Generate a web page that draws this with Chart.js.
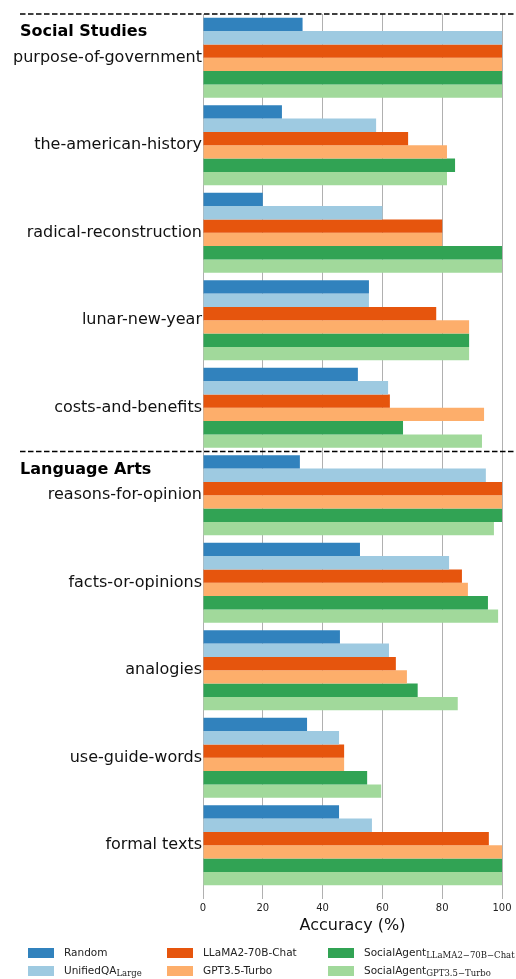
<!DOCTYPE html>
<html>
<head>
<meta charset="utf-8">
<script src="https://cdn.jsdelivr.net/npm/chart.js@4.4.1/dist/chart.umd.min.js"></script>
<style>
  body { margin: 0; background: #fff; }
  canvas { display: block; }
</style>
</head>
<body>
<canvas id="myChart" width="516" height="979"></canvas>
<script>
const categories = [
    'purpose-of-government', 'the-american-history', 'radical-reconstruction',
    'lunar-new-year', 'costs-and-benefits',
    'reasons-for-opinion', 'facts-or-opinions', 'analogies',
    'use-guide-words', 'formal texts'
];

const sectionNames = ['Social Studies', 'Language Arts'];
const sectionStarts = [0, 5];

const xTicks = [0, 20, 40, 60, 80, 100];

const randomVals    = [33.3, 26.4, 20.0, 55.5, 51.8, 32.4, 52.5, 45.8, 34.8, 45.5];
const unifiedQAVals = [100, 57.9, 60.0, 55.5, 61.9, 94.6, 82.3, 62.2, 45.5, 56.5];
const llamaVals     = [100, 68.6, 80.0, 78.0, 62.5, 100, 86.6, 64.5, 47.2, 95.6];
const gptVals       = [100, 81.6, 80.0, 89.0, 94.0, 100, 88.6, 68.2, 47.2, 100];
const saLlamaVals   = [100, 84.3, 100, 89.0, 66.9, 100, 95.3, 71.8, 54.9, 100];
const saGptVals     = [100, 81.6, 100, 89.0, 93.3, 97.3, 98.7, 85.2, 59.6, 100];

const seriesNames = ['Random', 'UnifiedQA', 'LLaMA2-70B-Chat', 'GPT3.5-Turbo', 'SocialAgent', 'SocialAgent'];
const seriesSubs  = ['', 'Large', '', '', 'LLaMA2\u221270B\u2212Chat', 'GPT3.5\u2212Turbo'];
const seriesColors = ['#3182bd', '#9ecae1', '#e6550d', '#fdae6b', '#31a354', '#a1d99b'];
const seriesData = [randomVals, unifiedQAVals, llamaVals, gptVals, saLlamaVals, saGptVals];

const FONT = "'DejaVu Sans', sans-serif";

// dashed separators + bold section titles
const sectionPlugin = {
    id: 'sections',
    afterDraw(chart) {
        const c = chart.ctx;
        const y = chart.scales.y;
        const band = y.getPixelForValue(1) - y.getPixelForValue(0);
        c.save();
        sectionStarts.forEach((start, i) => {
            const yy = y.getPixelForValue(start) - band / 2;
            c.strokeStyle = '#000';
            c.lineWidth = 1.5;
            c.setLineDash([5.5, 2.5]);
            c.beginPath();
            c.moveTo(20, yy);
            c.lineTo(chart.width, yy);
            c.stroke();
            c.setLineDash([]);
            c.fillStyle = '#000';
            c.font = "bold 16px " + FONT;
            c.textBaseline = 'middle';
            c.textAlign = 'left';
            c.fillText(sectionNames[i], 20, yy + 18);
        });
        c.restore();
    }
};

// legend in 3 columns x 2 rows, with subscripts
const legendPlugin = {
    id: 'subLegend',
    afterDraw(chart) {
        const c = chart.ctx;
        const colX = [28, 167, 328];
        const rowY = [953, 971];
        c.save();
        chart.data.datasets.forEach((ds, i) => {
            const x = colX[Math.floor(i / 2)];
            const y = rowY[i % 2];
            c.fillStyle = ds.backgroundColor;
            c.fillRect(x, y - 5, 26, 10);
            c.fillStyle = '#222';
            c.textBaseline = 'middle';
            c.textAlign = 'left';
            c.font = "10.5px " + FONT;
            c.fillText(seriesNames[i], x + 36, y);
            if (seriesSubs[i]) {
                const w = c.measureText(seriesNames[i]).width;
                c.font = "8.5px 'DejaVu Serif', 'Liberation Serif', serif";
                c.fillText(seriesSubs[i], x + 36 + w, y + 3);
            }
        });
        c.restore();
    }
};

const ctx = document.getElementById('myChart').getContext('2d');
new Chart(ctx, {
    type: 'bar',
    data: {
        labels: categories,
        datasets: seriesData.map((vals, i) => ({
            label: seriesNames[i] + seriesSubs[i],
            data: vals,
            backgroundColor: seriesColors[i],
            borderWidth: 0,
            barPercentage: 1.0,
            categoryPercentage: 0.915
        }))
    },
    options: {
        indexAxis: 'y',
        responsive: false,
        animation: false,
        layout: { padding: { top: 14, right: 14, bottom: 44, left: 0 } },
        scales: {
            x: {
                min: 0,
                max: 100,
                z: 1, // grid over the bars
                afterBuildTicks: (s) => { s.ticks = xTicks.map(v => ({ value: v })); },
                afterFit: (s) => { s.height = 46; },
                grid: {
                    color: '#b0b0b0',
                    lineWidth: 1,
                    drawTicks: true,
                    tickLength: 10
                },
                border: { display: false },
                ticks: {
                    color: '#222',
                    padding: 3,
                    font: { family: FONT, size: 10 }
                },
                title: {
                    display: true,
                    text: 'Accuracy (%)',
                    color: '#111',
                    padding: { top: 2, bottom: 0 },
                    font: { family: FONT, size: 16 }
                }
            },
            y: {
                afterFit: (s) => { s.width = 203; },
                grid: { display: false },
                border: { display: false },
                ticks: {
                    color: '#111',
                    padding: -7,
                    font: { family: FONT, size: 16 }
                }
            }
        },
        plugins: {
            legend: { display: false },
            tooltip: { enabled: false }
        }
    },
    plugins: [sectionPlugin, legendPlugin]
});
</script>
</body>
</html>
